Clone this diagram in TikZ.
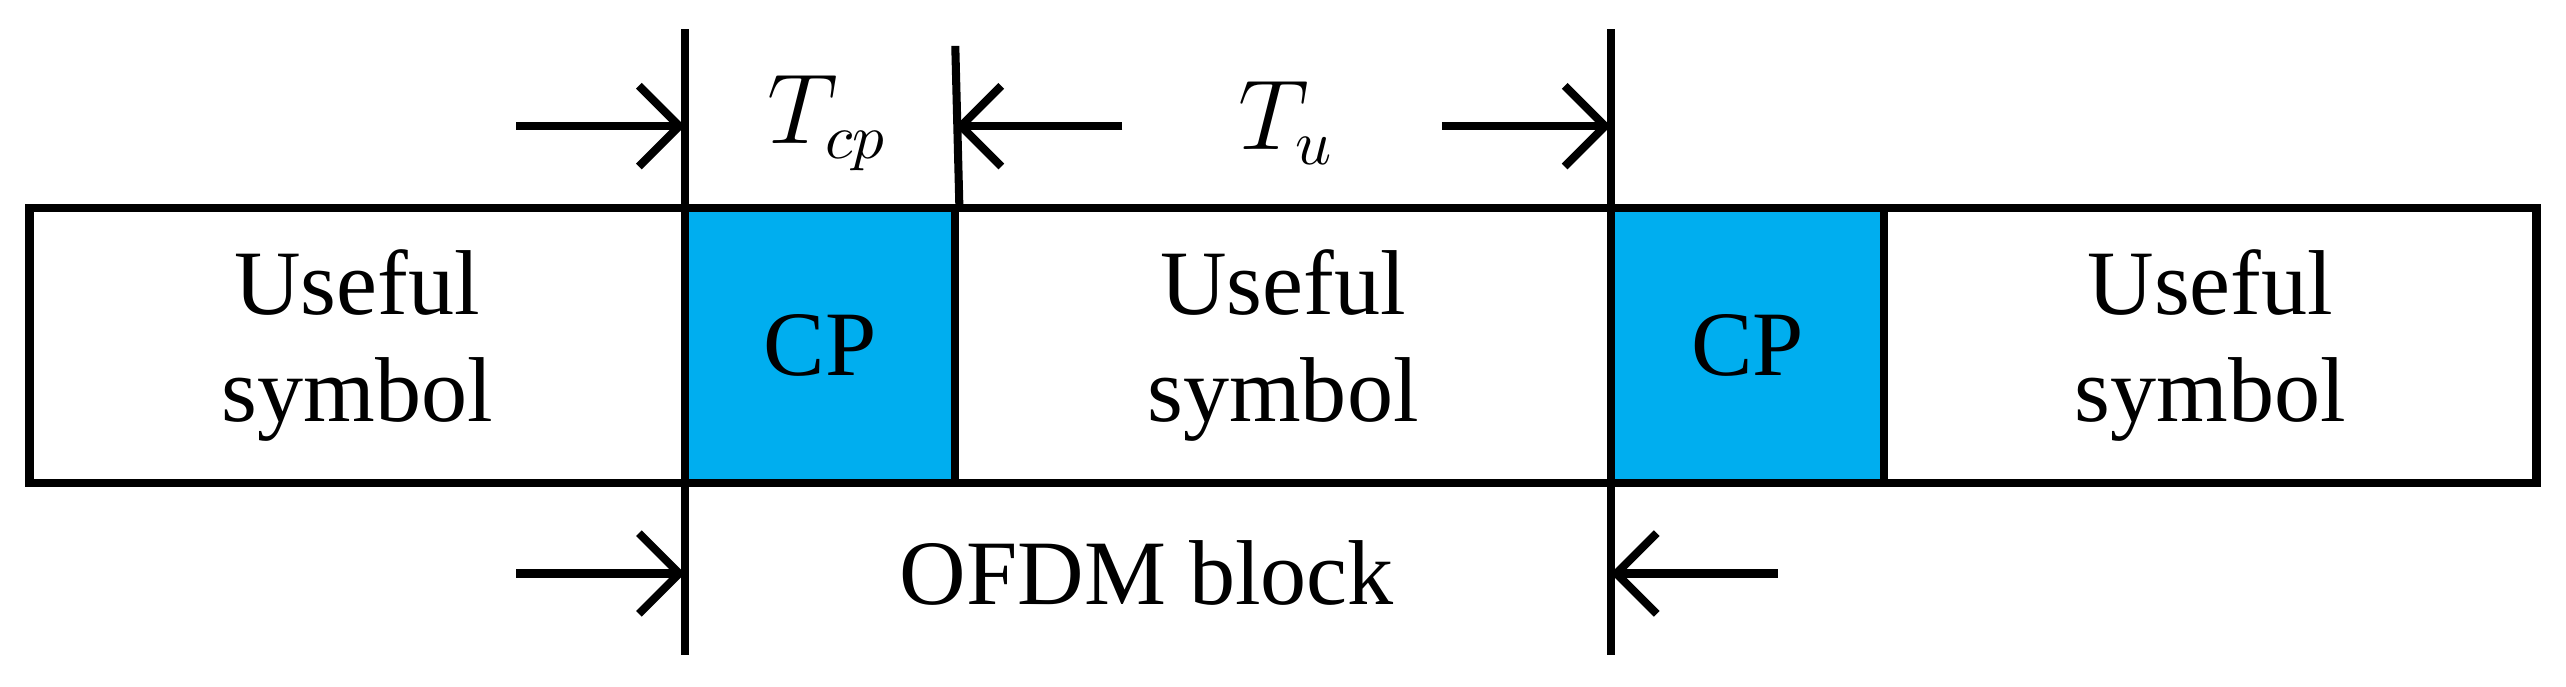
\documentclass[tikz,border=0pt]{standalone}
\usepackage{fontspec}
\setmainfont{Liberation Serif}
\usetikzlibrary{arrows.meta}
\definecolor{cpblue}{HTML}{00AEEF}
\tikzset{
	blk/.style={draw,line width=1.4pt,minimum height=1.68cm,inner sep=0pt,align=center,font=\fontsize{16}{18.5}\selectfont},
	edge line/.style={line width=1.4pt},
	dim/.style={line width=1.4pt,-{Straight Barb[length=7pt,width=14pt,line width=1.4pt]}},
	lbl/.style={font=\fontsize{16}{18}\selectfont}
}
\begin{document}
\begin{tikzpicture}[every node/.style={align=center}]
		\useasboundingbox (0,0) rectangle (15.66,4.19);
		% blocks
		\node[blk,minimum width=4cm] (u1) at (2.18,2.08) {Useful\\symbol};
		\node[blk,fill=cpblue,minimum width=1.65cm] (cp1) at (5.005,2.08) {CP};
		\node[blk,minimum width=4cm] (u2) at (7.83,2.08) {Useful\\symbol};
		\node[blk,fill=cpblue,minimum width=1.67cm] (cp2) at (10.665,2.08) {CP};
		\node[blk,minimum width=3.98cm] (u3) at (13.49,2.08) {Useful\\symbol};
		
		% boundary lines
		\coordinate (l1t) at (4.18,4.01);
		\coordinate (l1b) at (4.18,0.19);
		\coordinate (l2t) at (5.83,3.91);
		\coordinate (l3t) at (9.83,4.01);
		\coordinate (l3b) at (9.83,0.19);
		\draw[edge line] (l1t)--(l1b);
		\draw[edge line] (l2t)--(cp1.north east);
		\draw[edge line] (l3t)--(l3b);
		
		% dimension arrows
		\coordinate (a1) at (3.15,3.42);
		\coordinate (a1e) at (4.18,3.42);
		\coordinate (a2) at (6.85,3.42);
		\coordinate (a2e) at (5.83,3.42);
		\coordinate (a3) at (8.80,3.42);
		\coordinate (a3e) at (9.83,3.42);
		\coordinate (b1) at (3.15,0.69);
		\coordinate (b1e) at (4.18,0.69);
		\coordinate (b2) at (10.85,0.69);
		\coordinate (b2e) at (9.83,0.69);
		\foreach \s/\e in {a1/a1e,a2/a2e,a3/a3e,b1/b1e,b2/b2e}
		\draw[dim] (\s)--(\e);
		
		\node[lbl] (tcp) at (5.05,3.44) {$T_{cp}$};
		\node[lbl] (tu) at (7.85,3.44) {$T_{u}$};
		\node[lbl] (ofdm) at (7.0,0.69) {OFDM block};
\end{tikzpicture}
\end{document}
